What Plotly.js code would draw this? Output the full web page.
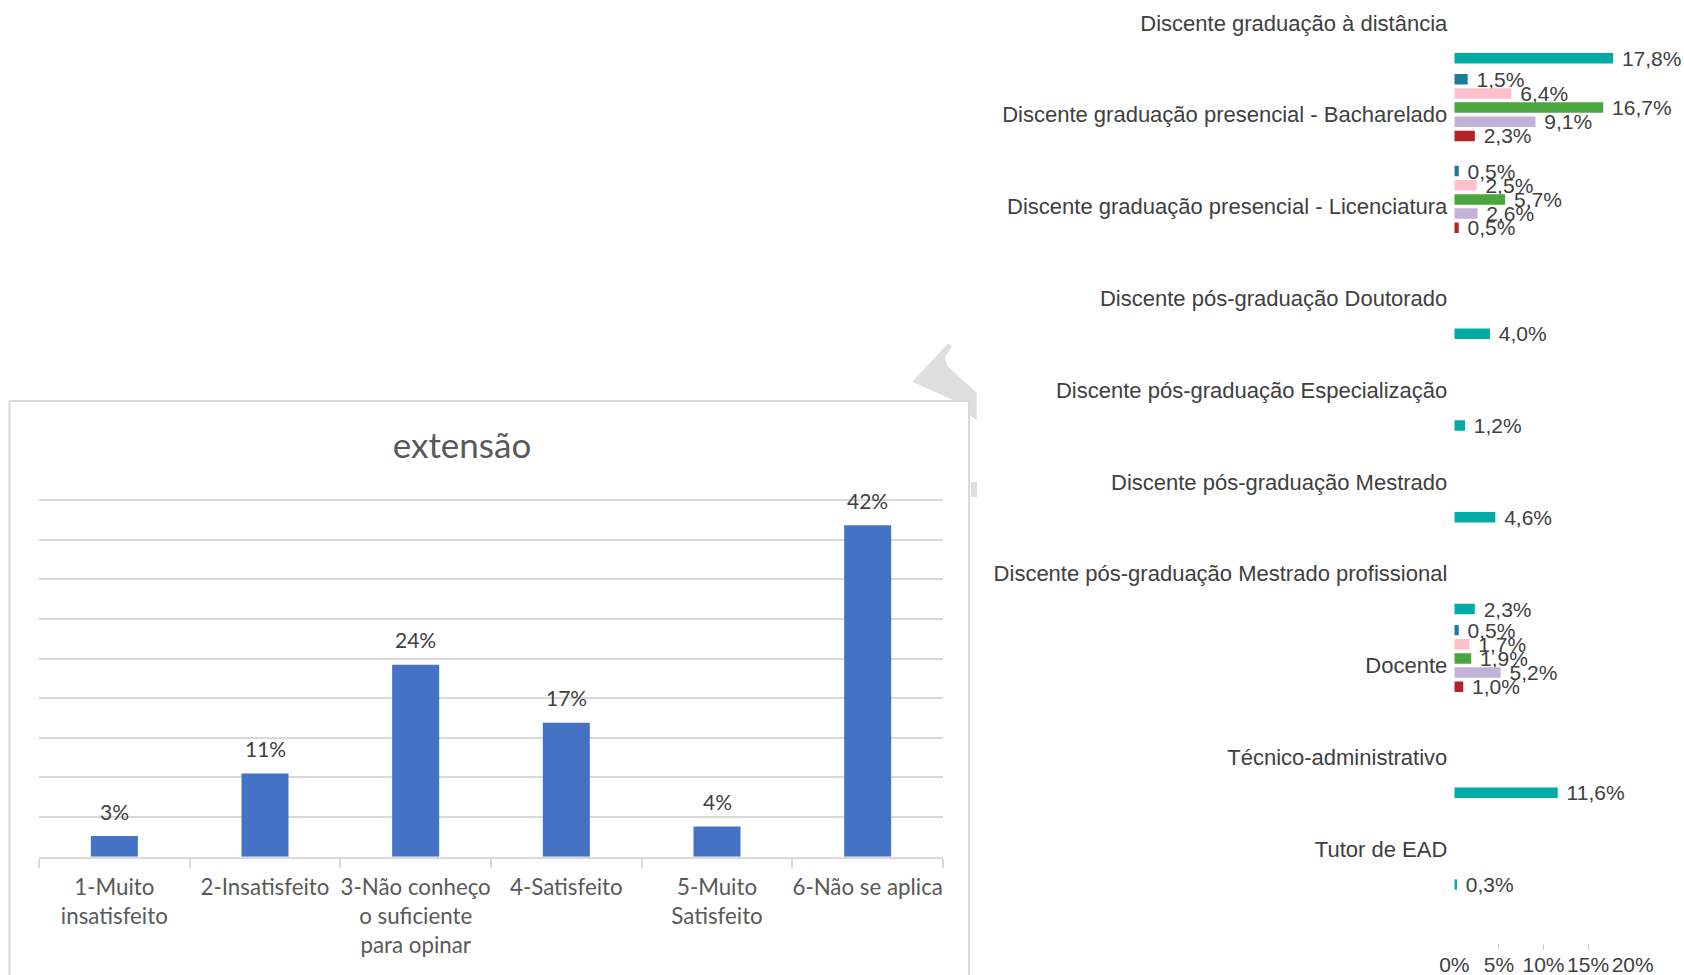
<!DOCTYPE html>
<html>
<head>
<meta charset="utf-8">
<script src="https://cdn.plot.ly/plotly-3.0.1.min.js"></script>
<style>
html,body{margin:0;padding:0;background:#fff;}
#chart{width:1684px;height:975px;}
</style>
</head>
<body>
<div id="chart"></div>
<script>
// ---------- Left chart data (extensão) ----------
const leftCategories = ["1-Muito<br>insatisfeito", "2-Insatisfeito", "3-Não conheço<br>o suficiente<br>para opinar", "4-Satisfeito", "5-Muito<br>Satisfeito", "6-Não se aplica"];
const leftValues = [2.6, 10.5, 24.2, 16.9, 3.8, 41.8];
const leftTitle = "extensão";

// ---------- Right chart data ----------
const rightCategories = [
  "Discente graduação à distância",
  "Discente graduação presencial - Bacharelado",
  "Discente graduação presencial - Licenciatura",
  "Discente pós-graduação Doutorado",
  "Discente pós-graduação Especialização",
  "Discente pós-graduação Mestrado",
  "Discente pós-graduação Mestrado profissional",
  "Docente",
  "Técnico-administrativo",
  "Tutor de EAD"
];
const seriesNames = ["Série 1", "Série 2", "Série 3", "Série 4", "Série 5", "Série 6"];
const series1 = [null, 1.5, 0.5, null, null, null, null, 0.5, null, null];
const series2 = [null, 6.4, 2.5, null, null, null, null, 1.7, null, null];
const series3 = [null, 16.7, 5.7, null, null, null, null, 1.9, null, null];
const series4 = [null, 9.1, 2.6, null, null, null, null, 5.2, null, null];
const series5 = [null, 2.3, 0.5, null, null, null, null, 1.0, null, null];
const series6 = [17.8, null, null, 4.0, 1.2, 4.6, 2.3, null, 11.6, 0.3];
const rightTicks = [0, 5, 10, 15, 20];
const rightTickLabels = ["0%", "5%", "10%", "15%", "20%"];

// ---------- styling ----------
const W = 1684, H = 975;
const px = x => x / W;
const py = y => 1 - y / H;
const seriesColors = ["#1F7B9C", "#FFC0CB", "#4BA63F", "#C3B2D8", "#B42126", "#01ACA7"];
const rightFont = {family: "Liberation Sans, Arial, sans-serif", size: 21, color: "#404040"};
const rightCatFont = {family: "Liberation Sans, Arial, sans-serif", size: 22, color: "#404040"};
const leftFontFamily = "Lato, Carlito, Calibri, sans-serif";

const traces = [];
traces.push({
  type: "bar",
  x: leftCategories,
  y: leftValues,
  xaxis: "x", yaxis: "y",
  width: 0.312,
  marker: {color: "#4472C4", line: {width: 0}},
  hoverinfo: "skip",
  showlegend: false
});

const allSeries = [series1, series2, series3, series4, series5, series6];
allSeries.forEach((vals, i) => {
  traces.push({
    type: "bar",
    orientation: "h",
    name: seriesNames[i],
    y: rightCategories,
    x: vals,
    xaxis: "x2", yaxis: "y2",
    marker: {color: seriesColors[i], line: {width: 0}},
    texttemplate: "\u00a0%{x:.1f}%",
    textposition: "outside",
    constraintext: "none",
    cliponaxis: false,
    textfont: rightFont,
    hoverinfo: "skip",
    showlegend: false
  });
});

const annotations = leftValues.map((v, i) => ({
  x: leftCategories[i], y: v, xref: "x", yref: "y",
  text: Math.round(v) + "%",
  showarrow: false, yanchor: "middle", yshift: 25,
  font: {family: leftFontFamily, size: 21, color: "#404040"}
}));

// watermark fragment (gray shape partially hidden behind the left chart box)
const wm = [[912.3,381.7],[948.3,343.3],[951.7,346],[945,357.3],[947.3,366],[976.7,392.7],[976.7,420],[969.3,415],[960,403]];
const wmPath = "M " + wm.map(p => px(p[0]).toFixed(5) + "," + py(p[1]).toFixed(5)).join(" L ") + " Z";

const layout = {
  width: W, height: H,
  margin: {l: 0, r: 0, t: 0, b: 0, pad: 0},
  paper_bgcolor: "#ffffff",
  plot_bgcolor: "rgba(0,0,0,0)",
  separators: ",.",
  barmode: "group",
  bargap: 0.075,
  bargroupgap: 0.26,
  showlegend: false,
  title: {
    text: leftTitle,
    x: px(462), y: py(446), xanchor: "center", yanchor: "middle",
    font: {family: leftFontFamily, size: 35, color: "#595959"}
  },
  xaxis: {
    domain: [px(39), px(943)],
    type: "category",
    range: [-0.5, 5.5],
    showgrid: false,
    showline: true, linecolor: "#d9d9d9", linewidth: 2,
    ticks: "outside", tickson: "boundaries", ticklen: 9, tickcolor: "#d9d9d9", tickwidth: 2,
    tickangle: 0,
    tickfont: {family: leftFontFamily, size: 22.3, color: "#595959"},
    ticklabelstandoff: 10,
    automargin: false, fixedrange: true
  },
  yaxis: {
    domain: [py(856.7), py(497.6)],
    range: [0, 45.3], dtick: 5, tick0: 0,
    showgrid: true, gridcolor: "#d9d9d9", gridwidth: 2,
    showticklabels: false, zeroline: false, showline: false, ticks: "",
    automargin: false, fixedrange: true
  },
  xaxis2: {
    domain: [px(1454.3), px(1632.7)],
    anchor: "y2",
    range: [0, 20],
    tickmode: "array", tickvals: rightTicks, ticktext: rightTickLabels,
    showgrid: false, zeroline: false, showline: false,
    ticks: "inside", ticklen: 6, tickcolor: "#c8c8c8", tickwidth: 1,
    tickangle: 0,
    tickfont: rightFont,
    automargin: false, fixedrange: true
  },
  yaxis2: {
    domain: [py(950), 1],
    anchor: "x2",
    type: "category",
    categoryorder: "array", categoryarray: rightCategories,
    autorange: false,
    range: [10.099, -0.249],
    showgrid: false, zeroline: false, showline: false, ticks: "",
    tickfont: rightCatFont,
    ticklabelstandoff: 6,
    automargin: false, fixedrange: true
  },
  shapes: [
    {type: "path", xref: "paper", yref: "paper", path: wmPath, fillcolor: "#dedede", line: {width: 0}, layer: "below"},
    {type: "rect", xref: "paper", yref: "paper", x0: px(971), x1: px(977), y0: py(482), y1: py(497), fillcolor: "#dedede", line: {width: 0}, layer: "below"},
    {type: "rect", xref: "paper", yref: "paper", x0: px(9.5), x1: px(969), y0: py(401), y1: py(990), fillcolor: "#ffffff", line: {color: "#d9d9d9", width: 2}, layer: "below"}
  ],
  annotations: annotations
};

Plotly.newPlot("chart", traces, layout, {staticPlot: true, displayModeBar: false});
</script>
</body>
</html>
